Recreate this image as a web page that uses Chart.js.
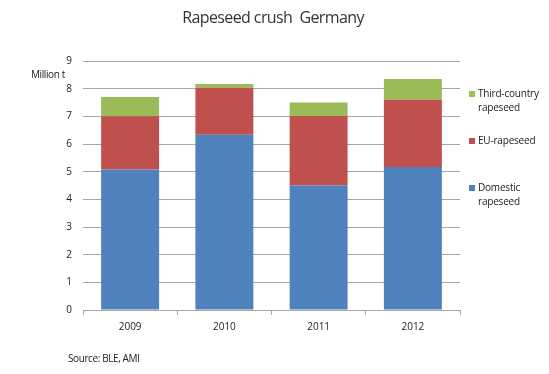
<!DOCTYPE html>
<html>
<head>
<meta charset="utf-8">
<script src="https://cdn.jsdelivr.net/npm/chart.js@4/dist/chart.umd.min.js"></script>
<style>
  html, body { margin: 0; padding: 0; background: #fff; }
  #wrap { width: 549px; height: 374px; position: relative; }
</style>
</head>
<body>
<div id="wrap"><canvas id="crushChart"></canvas></div>
<script>
// Rapeseed crush Germany, million t
const years = ['2009', '2010', '2011', '2012'];
const domestic = [5.08, 6.33, 4.50, 5.17];
const euSeed = [1.92, 1.70, 2.51, 2.43];
const thirdCountry = [0.70, 0.14, 0.49, 0.75];
const yTicks = [0, 1, 2, 3, 4, 5, 6, 7, 8, 9];

const FONT = '"Open Sans", "Noto Sans", sans-serif';

// legend on the right + title + notes
const decorPlugin = {
  id: 'decor',
  afterDraw(chart) {
    const ctx = chart.ctx;
    ctx.save();
    ctx.fillStyle = '#333';
    ctx.font = '16px ' + FONT;
    ctx.letterSpacing = '-0.6px';
    ctx.textAlign = 'center';
    ctx.textBaseline = 'middle';
    ctx.fillText('Rapeseed crush  Germany', 273, 18);

    ctx.fillStyle = '#222';
    ctx.font = '10px ' + FONT;
    ctx.letterSpacing = '-0.4px';
    ctx.textAlign = 'left';
    ctx.fillText('Million t', 31, 75);
    ctx.fillText('Source: BLE, AMI', 68, 359);

    const items = [
      { ds: 2, y: 94, lines: ['Third-country', 'rapeseed'] },
      { ds: 1, y: 141, lines: ['EU-rapeseed'] },
      { ds: 0, y: 188, lines: ['Domestic', 'rapeseed'] }
    ];
    ctx.letterSpacing = '-0.2px';
    items.forEach(it => {
      ctx.fillStyle = chart.data.datasets[it.ds].backgroundColor;
      ctx.fillRect(469, it.y - 3, 6, 6);
      ctx.fillStyle = '#222';
      it.lines.forEach((t, i) => ctx.fillText(t, 478, it.y + i * 14));
    });
    ctx.restore();
  }
};

new Chart(document.getElementById('crushChart').getContext('2d'), {
  type: 'bar',
  data: {
    labels: years,
    datasets: [
      { label: 'Domestic rapeseed', data: domestic, backgroundColor: '#4F81BD' },
      { label: 'EU-rapeseed', data: euSeed, backgroundColor: '#C0504D' },
      { label: 'Third-country rapeseed', data: thirdCountry, backgroundColor: '#9BBB59' }
    ]
  },
  options: {
    responsive: true,
    maintainAspectRatio: false,
    animation: false,
    layout: { padding: { left: 0, right: 89, top: 61, bottom: 0 } },
    datasets: { bar: { categoryPercentage: 1, barPercentage: 0.615, borderWidth: 0 } },
    plugins: { legend: { display: false }, tooltip: { enabled: false } },
    scales: {
      x: {
        stacked: true,
        afterFit: s => { s.height = 64; },
        grid: { offset: true, drawOnChartArea: false, tickLength: 5, color: '#A6A6A6' },
        border: { color: '#A6A6A6' },
        ticks: { color: '#222', font: { family: FONT, size: 10 }, padding: 6 }
      },
      y: {
        stacked: true,
        min: 0,
        max: 9,
        afterFit: s => { s.width = 83; },
        afterBuildTicks: s => { s.ticks = yTicks.map(v => ({ value: v })); },
        grid: { color: '#A6A6A6', drawTicks: false },
        border: { display: false },
        ticks: { color: '#222', font: { family: FONT, size: 10 }, padding: 11 }
      }
    }
  },
  plugins: [decorPlugin]
});
</script>
</body>
</html>
